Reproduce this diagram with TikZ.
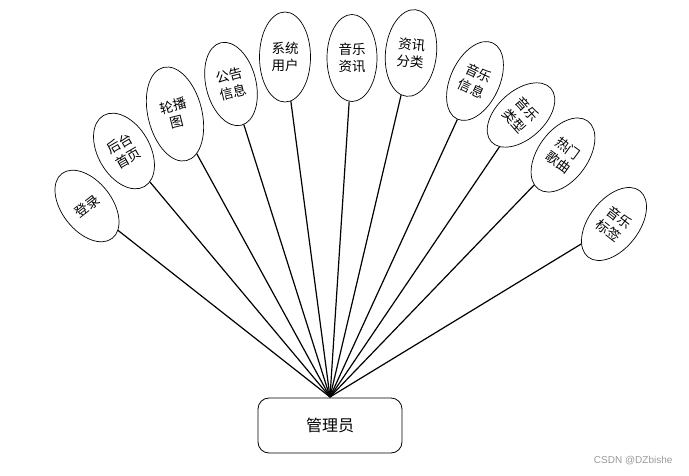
\documentclass[tikz,border=0pt]{standalone}
\usepackage{fontspec}
\setmainfont{Noto Sans CJK SC}
\newfontfamily\wmfont{Liberation Sans}
\usetikzlibrary{shapes.geometric}
\begin{document}
\begin{tikzpicture}[x=1pt,y=-1pt,
  ent/.style={draw, ellipse, line width=0.7pt, inner sep=0pt, align=center,
    font=\fontsize{13.5}{17}\selectfont, fill=white},
  link/.style={line width=1.2pt},
  mgr/.style={draw, rounded corners=11pt, line width=0.8pt, minimum width=144pt,
    minimum height=55pt, font=\fontsize{16}{19}\selectfont}]
\useasboundingbox (0,0) rectangle (689,476);
\node[mgr] (m) at (330,425.5) {管理员};
\node[ent, minimum width=50pt, minimum height=82pt, rotate=38] (e1) at (87,206) {登录};
\node[ent, minimum width=52pt, minimum height=82pt, rotate=30] (e2) at (124,151) {后台\\首页};
\node[ent, minimum width=54pt, minimum height=96pt, rotate=14] (e3) at (175,114) {轮播\\图};
\node[ent, minimum width=50pt, minimum height=85pt, rotate=14] (e4) at (231,84) {公告\\信息};
\node[ent, minimum width=51pt, minimum height=90pt] (e5) at (285,57) {系统\\用户};
\node[ent, minimum width=50pt, minimum height=87pt] (e6) at (352,58) {音乐\\资讯};
\node[ent, minimum width=51pt, minimum height=87pt, rotate=-6] (e7) at (411,53) {资讯\\分类};
\node[ent, minimum width=49pt, minimum height=84pt, rotate=-25] (e8) at (475,81) {音乐\\信息};
\node[ent, minimum width=48pt, minimum height=80pt, rotate=-48] (e9) at (521,115) {音乐\\类型};
\node[ent, minimum width=50pt, minimum height=84pt, rotate=-36] (e10) at (563,155) {热门\\歌曲};
\node[ent, minimum width=50pt, minimum height=84pt, rotate=-38] (e11) at (614,224) {音乐\\标签};
\coordinate (apex) at (330,397);
\foreach \i in {1,...,11} { \draw[link] (apex) -- (e\i); }
\node[font=\wmfont\fontsize{10}{12}\selectfont, text=gray!80, anchor=east] (wm) at (676,461) {CSDN @DZbishe};
\end{tikzpicture}
\end{document}
